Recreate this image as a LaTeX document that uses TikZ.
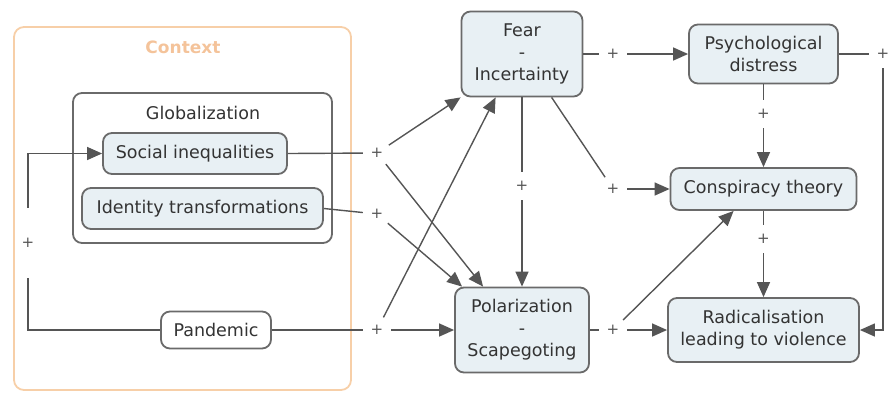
\documentclass[tikz,border=0pt]{standalone}
\usepackage{fontspec}
\setmainfont{DejaVu Sans}
\usetikzlibrary{arrows.meta}

\definecolor{boxfill}{HTML}{E8F0F4}
\definecolor{boxline}{HTML}{6A6A6A}
\definecolor{boxtext}{HTML}{333333}
\definecolor{linkline}{HTML}{555555}
\definecolor{ctxorange}{HTML}{F7CFA8}
\definecolor{ctxtext}{HTML}{F4C39A}

\tikzset{
  concept/.style={draw=boxline, line width=1.8pt, fill=boxfill, rounded corners=9pt,
    align=center, inner sep=0pt, text=boxtext, font=\fontsize{17.5}{22}\selectfont},
  plus/.style={circle, inner sep=0pt, minimum size=28pt, text=linkline,
    font=\fontsize{15}{15}\selectfont},
  link/.style={draw=linkline, line width=1.4pt},
  arr/.style={link, -{Triangle[length=15pt,width=13pt]}},
}

\begin{document}
\begin{tikzpicture}[x=1pt,y=-1pt] % pixel grid of the sketch, y downwards

\useasboundingbox (0,0) rectangle (891,392);

% context frame
\draw [ctxorange, line width=1.8pt, rounded corners=10pt] (14,27) rectangle (351,390);
\node [text=ctxtext, font=\bfseries\fontsize{17}{20}\selectfont] (ctx) at (183,47) {Context};

\draw [boxline, line width=1.8pt, rounded corners=9pt] (73,93) rectangle (332,243);
\node [text=boxtext, font=\fontsize{17.5}{20}\selectfont] (glob) at (203,113) {Globalization};

\node [concept, minimum width=184pt, minimum height=41pt] (soc)   at (195,153.5) {Social inequalities};
\node [concept, minimum width=241pt, minimum height=41pt] (ident) at (202.5,208.5) {Identity transformations};
\node [concept, fill=white, minimum width=110pt, minimum height=37pt] (pand) at (216,330) {Pandemic};

\node [concept, minimum width=121pt, minimum height=85pt] (fear)  at (522,54)  {Fear\\-\\Incertainty};
\node [concept, minimum width=134pt, minimum height=85pt] (polar) at (522,330) {Polarization\\-\\Scapegoting};

\node [concept, minimum width=149pt, minimum height=59pt] (psych) at (763.5,54)  {Psychological\\distress};
\node [concept, minimum width=186pt, minimum height=42pt] (consp) at (763.5,189) {Conspiracy theory};
\node [concept, minimum width=191pt, minimum height=64pt] (radic) at (763.5,330) {Radicalisation\\leading to violence};

\node [plus, minimum size=70pt] (plus0) at (28,243) {+};
\node [plus] (plus1)  at (377,153)   {+};
\node [plus] (plus2)  at (377,214)   {+};
\node [plus] (plus3)  at (377,330)   {+};
\node [plus] (plus4)  at (613,54)    {+};
\node [plus] (plus5)  at (522,186)   {+};
\node [plus] (plus6)  at (613,189)   {+};
\node [plus] (plus7)  at (763.5,114) {+};
\node [plus] (plus8)  at (763.5,239) {+};
\node [plus] (plus9)  at (613,330)   {+};
\node [plus] (plus10) at (883,54)    {+};

% loop round the context
\draw [link] (plus0) |- (pand.west);
\draw [arr]  (plus0) |- (soc.west);

\draw [link] (soc.east) -- (plus1);
\draw [arr]  (plus1) -- (fear.south west);
\draw [arr]  (plus1) -- ([xshift=29pt]polar.north west);

\draw [link] (ident.east) -- (plus2);
\draw [arr]  (plus2) -- ([xshift=8pt]polar.north west);

\draw [link] (pand.east) -- (plus3);
\draw [arr]  (plus3) -- (polar.west);
\draw [arr]  (plus3) -- ([xshift=35pt]fear.south west);

\draw [link] (fear.east) -- (plus4);
\draw [arr]  (plus4) -- (psych.west);

\draw [link] (fear.south) -- (plus5);
\draw [arr]  (plus5) -- (polar.north);

\draw [link] ([xshift=91pt]fear.south west) -- (plus6);
\draw [arr]  (plus6) -- (consp.west);

\draw [link] (psych.south) -- (plus7);
\draw [arr]  (plus7) -- (consp.north);

\draw [link] (consp.south) -- (plus8);
\draw [arr]  (plus8) -- (radic.north);

\draw [link] (polar.east) -- (plus9);
\draw [arr]  (plus9) -- (radic.west);
\draw [arr]  (plus9) -- ([xshift=64pt]consp.south west);

\draw [link] (psych.east) -- (plus10);
\draw [arr]  (plus10) |- (radic.east);

\end{tikzpicture}
\end{document}
